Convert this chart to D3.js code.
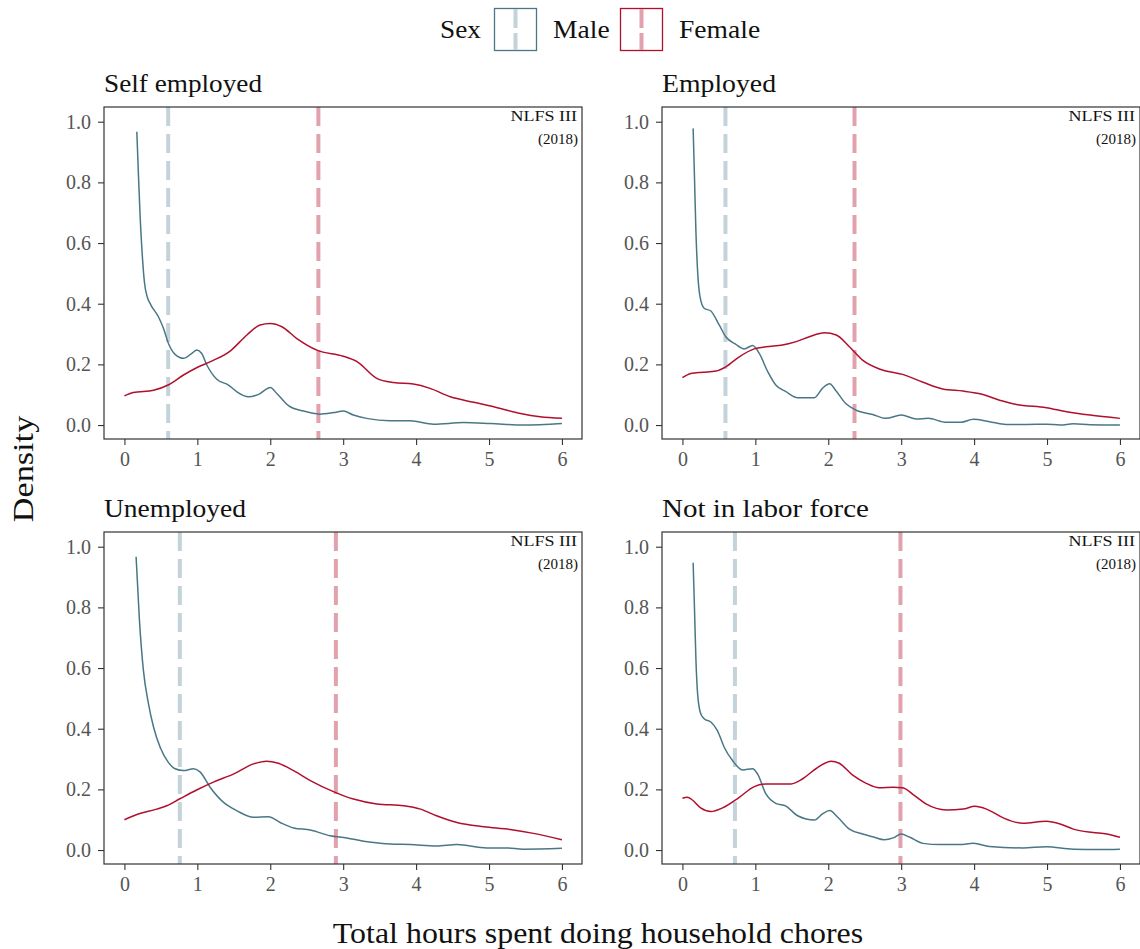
<!DOCTYPE html>
<html>
<head>
<meta charset="utf-8">
<script src="https://cdn.jsdelivr.net/npm/d3@7"></script>
<style>
  html, body { margin: 0; padding: 0; background: #fff; }
  svg { display: block; font-family: "Liberation Serif", "DejaVu Serif", serif; }
</style>
</head>
<body>
<svg id="chart" width="1140" height="949"></svg>
<script>
// Facet labels and sex groups
const statuses = ["Self employed", "Employed", "Unemployed", "Not in labor force"];
const sexes = ["Male", "Female"];

// Density estimates: [hours, density]
const maleSelfEmployed = [
  [0.17,0.967],[0.19,0.84],[0.215,0.69],[0.245,0.56],[0.275,0.47],[0.31,0.425],[0.36,0.397],[0.466,0.357],
  [0.535,0.319],[0.604,0.269],[0.695,0.233],[0.81,0.22],[0.924,0.236],[0.992,0.247],[1.06,0.236],
  [1.13,0.198],[1.267,0.151],[1.427,0.132],[1.54,0.11],[1.70,0.093],[1.84,0.101],[2.0,0.124],
  [2.09,0.104],[2.25,0.064],[2.455,0.046],[2.68,0.036],[2.87,0.041],[3.0,0.046],[3.14,0.033],
  [3.32,0.022],[3.64,0.014],[3.92,0.014],[4.24,0.003],[4.65,0.008],[5.02,0.005],[5.47,0.0],[6.0,0.005]
];
const femaleSelfEmployed = [
  [0.0,0.096],[0.12,0.107],[0.4,0.115],[0.6,0.132],[0.81,0.165],[0.99,0.189],[1.18,0.209],
  [1.45,0.244],[1.68,0.297],[1.86,0.33],[2.0,0.335],[2.16,0.324],[2.36,0.286],[2.64,0.247],
  [3.0,0.227],[3.19,0.209],[3.46,0.154],[3.69,0.14],[3.96,0.135],[4.19,0.121],[4.47,0.093],
  [4.79,0.075],[5.1,0.058],[5.43,0.038],[5.7,0.027],[6.0,0.022]
];
const maleEmployed = [
  [0.147,0.978],[0.165,0.82],[0.185,0.64],[0.21,0.5],[0.24,0.425],[0.298,0.385],[0.39,0.376],[0.504,0.33],
  [0.595,0.291],[0.733,0.266],[0.847,0.251],[0.962,0.262],[1.054,0.236],[1.17,0.176],[1.28,0.132],
  [1.42,0.11],[1.58,0.09],[1.81,0.09],[1.92,0.121],[2.02,0.136],[2.1,0.115],[2.24,0.071],
  [2.38,0.049],[2.61,0.035],[2.79,0.022],[3.0,0.033],[3.21,0.02],[3.37,0.022],[3.62,0.009],
  [3.82,0.009],[3.99,0.019],[4.21,0.011],[4.44,0.002],[4.72,0.002],[4.99,0.003],[5.18,0.0],
  [5.36,0.004],[5.59,0.001],[6.0,0.0]
];
const femaleEmployed = [
  [0.0,0.156],[0.115,0.17],[0.275,0.174],[0.46,0.178],[0.595,0.192],[0.78,0.225],[0.985,0.251],
  [1.145,0.258],[1.374,0.264],[1.56,0.275],[1.74,0.291],[1.95,0.304],[2.11,0.297],[2.29,0.258],
  [2.47,0.214],[2.7,0.185],[3.02,0.167],[3.3,0.141],[3.57,0.119],[3.85,0.112],[4.08,0.103],
  [4.35,0.082],[4.58,0.068],[4.99,0.057],[5.27,0.044],[5.59,0.033],[6.0,0.022]
];
const maleUnemployed = [
  [0.16,0.967],[0.206,0.758],[0.26,0.593],[0.33,0.482],[0.4,0.405],[0.49,0.339],[0.6,0.29],
  [0.695,0.268],[0.81,0.262],[0.947,0.268],[1.04,0.257],[1.175,0.207],[1.36,0.157],[1.54,0.13],
  [1.77,0.108],[1.975,0.11],[2.135,0.091],[2.32,0.073],[2.55,0.066],[2.82,0.047],[3.05,0.04],
  [3.28,0.029],[3.64,0.02],[3.92,0.018],[4.28,0.013],[4.56,0.018],[4.97,0.007],[5.24,0.007],
  [5.47,0.003],[6.0,0.006]
];
const femaleUnemployed = [
  [0.0,0.1],[0.19,0.119],[0.44,0.135],[0.58,0.146],[0.76,0.169],[0.99,0.198],[1.22,0.224],
  [1.5,0.251],[1.77,0.284],[1.95,0.293],[2.11,0.286],[2.32,0.262],[2.55,0.229],[2.89,0.19],
  [3.14,0.168],[3.46,0.152],[3.83,0.146],[4.06,0.135],[4.28,0.113],[4.56,0.091],[4.93,0.077],
  [5.29,0.068],[5.61,0.055],[6.0,0.034]
];
const maleNotInLabor = [
  [0.147,0.947],[0.165,0.8],[0.185,0.63],[0.21,0.51],[0.25,0.45],[0.298,0.433],[0.39,0.422],[0.48,0.394],
  [0.573,0.339],[0.687,0.295],[0.825,0.264],[0.962,0.268],[1.03,0.251],[1.145,0.185],[1.28,0.154],
  [1.42,0.145],[1.58,0.113],[1.81,0.099],[1.92,0.119],[2.02,0.13],[2.13,0.108],[2.29,0.069],
  [2.47,0.053],[2.61,0.044],[2.77,0.034],[2.89,0.04],[3.0,0.053],[3.12,0.042],[3.3,0.022],
  [3.53,0.018],[3.8,0.018],[3.99,0.022],[4.21,0.012],[4.67,0.007],[4.99,0.011],[5.36,0.003],
  [5.73,0.002],[6.0,0.003]
];
const femaleNotInLabor = [
  [0.0,0.171],[0.069,0.174],[0.137,0.165],[0.25,0.139],[0.39,0.127],[0.55,0.139],[0.78,0.174],
  [0.985,0.209],[1.145,0.218],[1.33,0.218],[1.49,0.218],[1.65,0.235],[1.83,0.268],[2.04,0.293],
  [2.15,0.286],[2.34,0.246],[2.52,0.22],[2.7,0.205],[2.89,0.207],[3.02,0.205],[3.18,0.18],
  [3.34,0.152],[3.62,0.132],[3.85,0.135],[4.01,0.144],[4.17,0.135],[4.4,0.106],[4.67,0.088],
  [4.99,0.095],[5.18,0.086],[5.36,0.069],[5.63,0.058],[5.82,0.053],[6.0,0.042]
];

// Mean hours per facet (dashed reference lines)
const maleMeans = [0.60, 0.59, 0.76, 0.72];
const femaleMeans = [2.66, 2.36, 2.90, 2.99];

// Axis ticks
const xTicks = [0, 1, 2, 3, 4, 5, 6];
const yTicks = [0.0, 0.2, 0.4, 0.6, 0.8, 1.0];

const maleSeries = [maleSelfEmployed, maleEmployed, maleUnemployed, maleNotInLabor];
const femaleSeries = [femaleSelfEmployed, femaleEmployed, femaleUnemployed, femaleNotInLabor];

const colors = { Male: "#497786", Female: "#b0102d" };
const meanColors = { Male: "#c4d3d9", Female: "#e2a2ad" };

// Set widths for the facet titles (TeX-like spacing)
const titleWidths = [158, 114, 142, 207];

const svg = d3.select("#chart");

// Widen the serif text a little so its set width resembles a TeX face
function widen(sel, factor) {
  sel.each(function () {
    const w = this.getComputedTextLength();
    d3.select(this).attr("textLength", w * factor).attr("lengthAdjust", "spacingAndGlyphs");
  });
}

// Panel geometry
const panelW = 478, panelH = 332;
const panelX = [104, 662];
const panelY = [107, 532];

const x = d3.scaleLinear().domain([-0.28, 6.275]).range([0, panelW]);
const y = d3.scaleLinear().domain([-0.046, 1.0485]).range([panelH, 0]);

const line = d3.line()
  .x(d => x(d[0]))
  .y(d => y(d[1]))
  .curve(d3.curveMonotoneX);

const dash = "19,8";

statuses.forEach((status, i) => {
  const col = i % 2, row = Math.floor(i / 2);
  const g = svg.append("g").attr("transform", `translate(${panelX[col]},${panelY[row]})`);

  // Facet title
  g.append("text")
    .attr("x", 0).attr("y", -15)
    .attr("font-size", 26)
    .attr("fill", "#111")
    .attr("textLength", titleWidths[i])
    .attr("lengthAdjust", "spacingAndGlyphs")
    .text(status);

  const clipId = "clip" + i;
  g.append("clipPath").attr("id", clipId)
    .append("rect").attr("width", panelW).attr("height", panelH);

  const plot = g.append("g").attr("clip-path", `url(#${clipId})`);

  // Mean lines
  plot.append("line")
    .attr("x1", x(maleMeans[i])).attr("x2", x(maleMeans[i]))
    .attr("y1", 0).attr("y2", panelH)
    .attr("stroke", meanColors.Male).attr("stroke-width", 4)
    .attr("stroke-dasharray", dash);
  plot.append("line")
    .attr("x1", x(femaleMeans[i])).attr("x2", x(femaleMeans[i]))
    .attr("y1", 0).attr("y2", panelH)
    .attr("stroke", meanColors.Female).attr("stroke-width", 4)
    .attr("stroke-dasharray", dash);

  // Density curves
  plot.append("path").datum(maleSeries[i])
    .attr("d", line).attr("fill", "none")
    .attr("stroke", colors.Male).attr("stroke-width", 1.5);
  plot.append("path").datum(femaleSeries[i])
    .attr("d", line).attr("fill", "none")
    .attr("stroke", colors.Female).attr("stroke-width", 1.5);

  // Survey note
  g.append("text")
    .attr("x", panelW - 5).attr("y", 14)
    .attr("text-anchor", "end")
    .attr("font-size", 15).attr("fill", "#111")
    .text("NLFS III")
    .call(widen, 1.2);
  g.append("text")
    .attr("x", panelW - 4).attr("y", 37)
    .attr("text-anchor", "end")
    .attr("font-size", 15).attr("fill", "#111")
    .text("(2018)");

  // Axes
  const xAxis = g.append("g").attr("transform", `translate(0,${panelH})`)
    .call(d3.axisBottom(x).tickValues(xTicks).tickSize(6).tickPadding(7).tickFormat(d3.format("d")));
  const yAxis = g.append("g")
    .call(d3.axisLeft(y).tickValues(yTicks).tickSize(6).tickPadding(7).tickFormat(d3.format(".1f")));
  [xAxis, yAxis].forEach(ax => {
    ax.select(".domain").remove();
    ax.selectAll(".tick line").attr("stroke", "#333").attr("stroke-width", 1.1);
    ax.selectAll(".tick text")
      .attr("font-family", "Liberation Serif, DejaVu Serif, serif")
      .attr("font-size", 20).attr("fill", "#555");
  });

  // Panel border
  g.append("rect")
    .attr("width", panelW).attr("height", panelH)
    .attr("fill", "none").attr("stroke", "#333").attr("stroke-width", 1.2);
});

// Axis titles
svg.append("text")
  .attr("x", 598).attr("y", 943)
  .attr("text-anchor", "middle")
  .attr("font-size", 29).attr("fill", "#111")
  .text("Total hours spent doing household chores")
  .call(widen, 1.1);

svg.append("text")
  .attr("transform", "translate(33,469) rotate(-90)")
  .attr("text-anchor", "middle")
  .attr("font-size", 29).attr("fill", "#111")
  .text("Density")
  .call(widen, 1.18);

// Legend
const legend = svg.append("g");
legend.append("text")
  .attr("x", 440).attr("y", 38)
  .attr("font-size", 26).attr("fill", "#111")
  .text("Sex")
  .call(widen, 1.05);

const keyX = [494, 620];
const labelX = [553, 679];
sexes.forEach((s, i) => {
  const k = legend.append("g").attr("transform", `translate(${keyX[i]},8)`);
  k.append("rect")
    .attr("x", 0.5).attr("y", 0.5).attr("width", 42).attr("height", 42)
    .attr("fill", "#fff").attr("stroke", colors[s]).attr("stroke-width", 1.3);
  k.append("line")
    .attr("x1", 21.5).attr("x2", 21.5).attr("y1", 1).attr("y2", 42)
    .attr("stroke", meanColors[s]).attr("stroke-width", 4)
    .attr("stroke-dasharray", "19,5");
  legend.append("text")
    .attr("x", labelX[i]).attr("y", 38)
    .attr("font-size", 26).attr("fill", "#111")
    .text(s)
    .call(widen, 1.06);
});
</script>
</body>
</html>
